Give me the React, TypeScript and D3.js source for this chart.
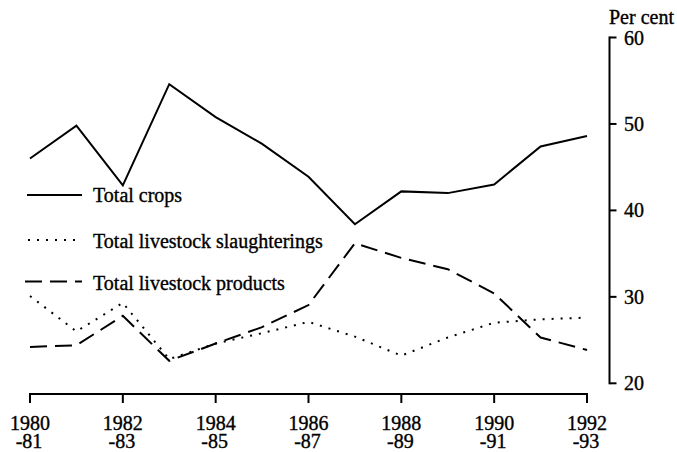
import React from "react";
import * as d3 from "d3";

const years = [1980, 1981, 1982, 1983, 1984, 1985, 1986, 1987, 1988, 1989, 1990, 1991, 1992];
const totalCrops = [46.0, 49.8, 42.9, 54.6, 50.8, 47.7, 43.9, 38.4, 42.2, 42.0, 43.0, 47.4, 48.6];
const totalSlaughterings = [30.1, 26.0, 29.3, 22.8, 24.6, 25.8, 27.1, 25.4, 23.2, 25.3, 27.0, 27.4, 27.6];
const totalProducts = [24.2, 24.4, 27.8, 22.6, 24.6, 26.5, 29.05, 36.2, 34.5, 33.2, 30.4, 25.3, 23.85];
const xTickYears = [1980, 1982, 1984, 1986, 1988, 1990, 1992];
const xTickLabels = [["1980", "-81"], ["1982", "-83"], ["1984", "-85"], ["1986", "-87"], ["1988", "-89"], ["1990", "-91"], ["1992", "-93"]];
const yTicks = [20, 30, 40, 50, 60];
const seriesNames = ["Total crops", "Total livestock slaughterings", "Total livestock products"];

const W = 677;
const H = 452;
const FONT = "'Liberation Serif', 'DejaVu Serif', serif";

export default function App() {
  const x = d3.scaleLinear().domain([1980, 1992]).range([30, 587]);
  const y = d3.scaleLinear().domain([20, 60]).range([383.3, 37.5]);
  const axisY = 394;
  const yAxisX = 609.5;

  const mk = (vals: number[]) =>
    d3
      .line<number>()
      .x((_, i) => x(years[i]))
      .y((v) => y(v))(vals) as string;

  const series = [
    { vals: totalCrops, dash: undefined as string | undefined },
    { vals: totalSlaughterings, dash: "2,7" },
    { vals: totalProducts, dash: "17,8" },
  ];

  const legend = [
    { ly: 195, ty: 202, x1: 27, x2: 82 },
    { ly: 240, ty: 247.5, x1: 28, x2: 80 },
    { ly: 281.5, ty: 289.5, x1: 25, x2: 82 },
  ];

  const textStyle = { stroke: "#000", strokeWidth: 0.35 };

  return (
    <svg
      width={W}
      height={H}
      style={{ position: "absolute", left: 0, top: 0, background: "#fff" }}
      fontFamily={FONT}
    >
      <rect width={W} height={H} fill="#fff" />
      {series.map((s, i) => (
        <path
          key={i}
          d={mk(s.vals)}
          fill="none"
          stroke="#000"
          strokeWidth={2}
          strokeDasharray={s.dash}
          strokeLinejoin="miter"
        />
      ))}
      {legend.map((l, i) => (
        <g key={i}>
          <line
            x1={l.x1}
            x2={l.x2}
            y1={l.ly}
            y2={l.ly}
            stroke="#000"
            strokeWidth={2}
            strokeDasharray={series[i].dash}
          />
          <text x={93} y={l.ty} fontSize={20} fill="#000" style={textStyle}>
            {seriesNames[i]}
          </text>
        </g>
      ))}
      <line x1={x(1980) - 1} x2={x(1992) + 1} y1={axisY} y2={axisY} stroke="#000" strokeWidth={2} />
      {xTickYears.map((yr, i) => (
        <g key={yr}>
          <line x1={x(yr)} x2={x(yr)} y1={axisY} y2={axisY + 9} stroke="#000" strokeWidth={2} />
          <text x={x(yr)} y={430} fontSize={20} textAnchor="middle" fill="#000" style={textStyle}>
            <tspan x={x(yr)}>{xTickLabels[i][0]}</tspan>
            <tspan x={x(yr) - 1} dy={18}>
              {xTickLabels[i][1]}
            </tspan>
          </text>
        </g>
      ))}
      <line x1={yAxisX} x2={yAxisX} y1={y(60) - 1} y2={y(20) + 1} stroke="#000" strokeWidth={2} />
      {yTicks.map((t) => (
        <g key={t}>
          <line x1={yAxisX} x2={yAxisX + 7} y1={y(t)} y2={y(t)} stroke="#000" strokeWidth={2} />
          <text x={624} y={y(t) + 7} fontSize={20} fill="#000" style={textStyle}>
            {t}
          </text>
        </g>
      ))}
      <text x={609} y={23.5} fontSize={20} fill="#000" style={textStyle}>
        Per cent
      </text>
    </svg>
  );
}
